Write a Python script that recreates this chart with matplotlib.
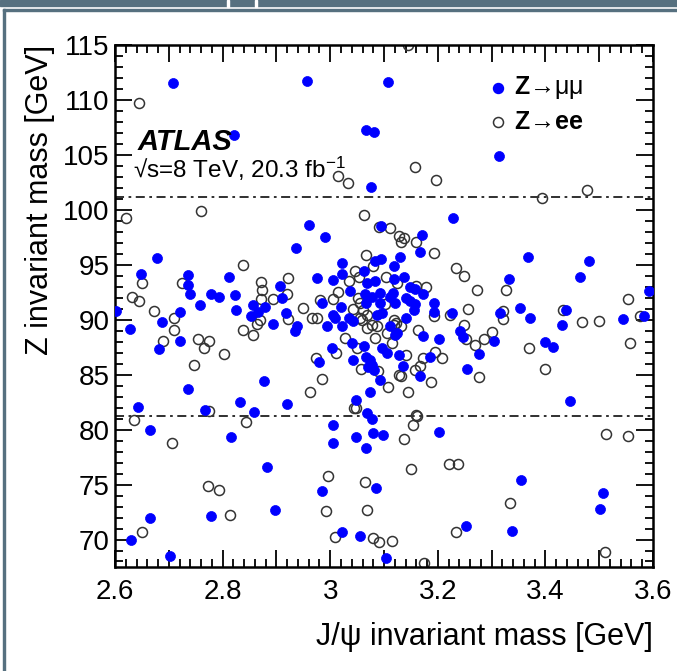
import numpy as np
import matplotlib
matplotlib.use("Agg")
import matplotlib.pyplot as plt
from matplotlib.ticker import MultipleLocator, FuncFormatter
from matplotlib.patches import Rectangle

# =====================================================
# DATA
# =====================================================

mumu_x = [2.707, 2.956, 3.108, 2.821, 3.066, 3.082, 3.076, 3.313, 2.961, 2.991,
          2.936, 3.228, 3.094, 3.170, 3.167, 3.368, 3.481, 3.332, 3.465, 3.593,
          2.677, 2.648, 2.736, 2.736, 2.812, 2.907, 2.976, 3.006, 3.022, 3.021,
          3.062, 3.084, 2.602, 2.628, 2.688, 2.682, 2.720, 2.720, 2.739, 2.757,
          2.779, 2.793, 2.823, 2.824, 2.735, 2.877, 2.643, 2.767, 2.833, 2.859,
          2.919, 2.911, 2.856, 2.865, 2.852, 2.879, 2.894, 2.918, 2.664, 2.816,
          2.883, 2.779, 2.897, 2.664, 2.630, 2.703, 3.006, 3.005, 2.985, 3.021,
          3.068, 3.077, 3.047, 3.080, 3.099, 3.066, 3.203, 3.086, 3.055, 3.104,
          3.252, 3.355, 3.337, 3.445, 3.507, 3.501, 3.095, 3.129, 3.119, 3.069,
          3.084, 3.118, 3.138, 3.149, 3.157, 3.036, 2.985, 3.065, 3.067, 3.078,
          3.093, 3.093, 3.112, 3.116, 3.121, 3.140, 3.149, 3.158, 3.155, 3.172,
          3.192, 3.193, 3.006, 3.009, 3.020, 3.034, 3.043, 3.087, 3.096, 3.141,
          3.112, 2.939, 2.935, 2.994, 3.022, 3.121, 3.124, 3.172, 3.203, 3.226,
          3.241, 3.246, 3.040, 3.062, 3.003, 3.096, 3.105, 3.127, 2.980, 3.042,
          3.067, 3.074, 3.077, 3.082, 3.071, 3.093, 3.136, 3.185, 3.166, 3.073,
          3.048, 3.315, 3.352, 3.371, 3.438, 3.430, 3.545, 3.583, 3.305, 3.277,
          3.255, 3.399, 3.415]
mumu_y = [111.5, 111.7, 111.6, 106.8, 107.3, 107.1, 102.1, 104.9, 98.6, 97.5,
          96.5, 99.3, 98.55, 97.7, 96.2, 95.7, 95.3, 93.75, 93.85, 92.6,
          95.6, 94.2, 94.1, 93.2, 93.9, 93.1, 93.8, 93.6, 94.2, 95.2,
          94.4, 95.3, 90.8, 89.2, 89.75, 87.3, 90.7, 88.1, 92.3, 91.3,
          92.3, 92.1, 92.25, 90.9, 83.7, 84.4, 82.1, 81.8, 82.5, 81.6,
          82.3, 92.0, 91.3, 90.7, 90.3, 91.2, 89.6, 90.6, 79.95, 79.3,
          76.6, 72.1, 72.7, 72.0, 70.0, 68.5, 80.4, 78.75, 74.45, 70.7,
          81.5, 81.0, 79.3, 79.7, 79.5, 78.3, 79.75, 74.7, 70.3, 68.3,
          71.25, 75.4, 70.75, 82.6, 74.2, 72.8, 95.5, 95.7, 94.9, 93.3,
          93.5, 93.7, 93.9, 93.0, 92.8, 92.6, 91.5, 92.3, 91.5, 92.1,
          92.4, 91.5, 92.1, 92.4, 91.5, 92.0, 91.7, 91.4, 90.9, 92.3,
          91.5, 90.7, 90.45, 90.15, 91.15, 90.15, 89.85, 90.45, 90.6, 90.15,
          89.4, 89.4, 88.95, 89.4, 89.45, 88.6, 88.8, 88.5, 88.2, 90.6,
          89.0, 88.4, 87.9, 87.6, 87.4, 87.4, 86.95, 86.8, 86.15, 86.3,
          86.65, 86.35, 85.85, 85.45, 85.7, 84.55, 85.8, 86.65, 84.9, 83.4,
          82.7, 90.65, 91.1, 90.2, 90.9, 89.5, 90.1, 90.3, 88.1, 86.9,
          85.5, 88.0, 87.5]

ee_x = [2.645, 3.144, 3.014, 3.033, 3.157, 3.197, 3.393, 3.477, 2.620, 2.759,
        3.063, 3.090, 2.838, 2.650, 2.725, 2.871, 2.921, 3.066, 3.112, 3.127,
        3.137, 3.131, 3.160, 3.192, 3.233, 3.248, 3.273, 3.326, 3.554, 2.632,
        2.644, 2.673, 2.709, 2.710, 2.689, 2.755, 2.775, 2.766, 2.802, 2.746,
        2.774, 2.874, 2.872, 2.893, 2.919, 2.870, 2.864, 2.837, 2.857, 2.921,
        2.635, 2.705, 2.843, 2.772, 2.794, 2.814, 2.650, 2.995, 2.992, 3.008,
        3.047, 3.159, 3.162, 3.154, 3.137, 3.151, 3.221, 3.238, 3.065, 3.068,
        3.080, 3.090, 3.114, 3.175, 3.234, 3.334, 3.513, 3.553, 3.511, 3.079,
        3.046, 3.035, 3.053, 3.104, 3.124, 3.160, 3.178, 3.015, 3.005, 2.981,
        3.051, 3.056, 3.102, 3.193, 2.949, 2.966, 2.975, 3.042, 3.056, 3.059,
        3.069, 3.061, 3.118, 3.123, 3.132, 3.118, 3.078, 3.087, 3.068, 3.105,
        3.164, 3.222, 3.084, 3.028, 3.050, 3.115, 3.011, 3.141, 2.974, 3.058,
        3.088, 3.107, 3.127, 3.132, 3.173, 3.166, 3.158, 3.207, 3.195, 3.187,
        2.985, 2.963, 3.144, 3.045, 3.257, 3.322, 3.322, 3.433, 3.468, 3.500,
        3.576, 3.249, 3.253, 3.270, 3.285, 3.300, 3.277, 3.369, 3.399, 3.558]
ee_y = [109.75, 115.0, 103.1, 102.4, 103.9, 102.7, 101.1, 101.8, 99.3, 99.9,
        99.5, 98.4, 95.0, 93.3, 93.3, 93.4, 93.8, 95.9, 98.3, 97.6,
        97.4, 97.1, 97.1, 96.1, 94.75, 93.95, 92.7, 92.7, 91.9, 92.1,
        91.7, 90.8, 90.15, 89.1, 88.1, 88.2, 88.1, 87.4, 86.9, 85.85,
        81.7, 92.7, 91.9, 91.9, 92.3, 90.0, 89.6, 89.1, 88.6, 90.1,
        80.85, 78.8, 80.7, 74.9, 74.5, 72.2, 70.7, 75.75, 72.6, 70.2,
        82.0, 81.3, 81.2, 80.4, 79.15, 76.4, 76.9, 76.9, 75.25, 72.7,
        70.1, 69.8, 69.9, 67.9, 70.7, 73.3, 79.6, 79.4, 68.9, 94.85,
        94.4, 93.5, 93.9, 93.9, 93.3, 93.1, 93.0, 92.5, 91.9, 91.8,
        92.0, 91.5, 91.4, 90.3, 91.1, 90.15, 90.2, 91.0, 90.15, 90.0,
        90.4, 90.9, 90.0, 89.7, 89.45, 89.55, 89.55, 89.4, 89.25, 88.8,
        89.1, 90.4, 88.35, 88.35, 87.4, 87.9, 86.95, 86.8, 86.5, 85.5,
        85.3, 83.9, 85.0, 84.85, 86.5, 85.75, 85.45, 86.5, 87.1, 84.3,
        84.6, 83.4, 83.4, 81.95, 91.0, 90.8, 90.1, 90.9, 89.8, 89.9,
        90.3, 89.55, 88.25, 87.7, 88.25, 88.9, 84.8, 87.4, 85.5, 87.9]

window_lines = [81.2, 101.2]

x_range = [2.6, 3.6]
y_range = [67.5, 115]

# =====================================================
# STYLE
# =====================================================

plt.rcParams["font.family"] = ["Liberation Sans", "DejaVu Sans"]
plt.rcParams["mathtext.fontset"] = "custom"
plt.rcParams["mathtext.rm"] = "Liberation Sans"
plt.rcParams["mathtext.it"] = "Liberation Sans:italic"
plt.rcParams["mathtext.bf"] = "Liberation Sans:bold"

fig = plt.figure(figsize=(6.77, 6.71), dpi=100)
ax = fig.add_axes([0.170, 0.155, 0.7945, 0.778])

# slide frame around the plot
slate = "#56707f"
fig.patches.append(Rectangle((0, 1 - 6 / 671), 1, 6 / 671, transform=fig.transFigure,
                             color=slate, zorder=0))
for xp in [227, 255]:
    fig.patches.append(Rectangle((xp / 677, 1 - 7 / 671), 2 / 677, 7 / 671,
                                 transform=fig.transFigure, color="white", zorder=1))
fig.patches.append(Rectangle((3 / 677, 1 - 11 / 671), 1, 2.5 / 671,
                             transform=fig.transFigure, color=slate, zorder=0))
fig.patches.append(Rectangle((3 / 677, 0), 2.5 / 677, 1 - 9 / 671,
                             transform=fig.transFigure, color=slate, zorder=0))

# =====================================================
# PLOT
# =====================================================

for yl in window_lines:
    ax.axhline(yl, color="#202020", linewidth=1.3,
               linestyle=(0, (5, 2.5, 1.5, 2.5)), zorder=1)

ax.plot(ee_x, ee_y, linestyle="none", marker="o", markersize=7.2,
        markerfacecolor="none", markeredgecolor="#333333",
        markeredgewidth=1.1, zorder=2)
ax.plot(mumu_x, mumu_y, linestyle="none", marker="o", markersize=7.2,
        markerfacecolor="#0000ff", markeredgecolor="#0000ff",
        markeredgewidth=0.5, zorder=3)

ax.set_xlim(x_range)
ax.set_ylim(y_range)

ax.xaxis.set_major_locator(MultipleLocator(0.1))
ax.xaxis.set_minor_locator(MultipleLocator(0.02))
ax.xaxis.set_major_formatter(FuncFormatter(
    lambda v, p: ("%g" % round(v, 1)) if abs(round(v * 5) - v * 5) < 1e-6 else ""))
ax.yaxis.set_major_locator(MultipleLocator(5))
ax.yaxis.set_minor_locator(MultipleLocator(1))

ax.tick_params(which="both", direction="in", top=True, right=True,
               width=1.3, labelsize=20, colors="black")
ax.tick_params(which="major", length=12)
ax.tick_params(which="minor", length=6)
ax.tick_params(axis="x", which="major", pad=9)
ax.tick_params(axis="y", which="major", pad=4)

for s in ax.spines.values():
    s.set_linewidth(1.8)

ax.set_xlabel("J/ψ invariant mass [GeV]", fontsize=22, loc="right", labelpad=12)
ax.set_ylabel("Z invariant mass [GeV]", fontsize=22, loc="top", labelpad=6)

# =====================================================
# LABELS / LEGEND
# =====================================================

ax.text(0.042, 0.799, "ATLAS", transform=ax.transAxes, fontsize=21,
        fontweight="bold", fontstyle="italic", va="baseline")
ax.text(0.033, 0.745, r"√s=8 TeV, 20.3 fb$^{-1}$", transform=ax.transAxes,
        fontsize=17.5, va="baseline")

ax.plot([0.712], [0.918], transform=ax.transAxes, marker="o", markersize=7.2,
        color="#0000ff", linestyle="none", clip_on=False)
ax.plot([0.712], [0.852], transform=ax.transAxes, marker="o", markersize=7.2,
        markerfacecolor="none", markeredgecolor="#333333", markeredgewidth=1.1,
        linestyle="none", clip_on=False)
ax.text(0.742, 0.918, r"$\mathbf{Z}$→μμ", transform=ax.transAxes,
        fontsize=18, va="center")
ax.text(0.742, 0.852, r"$\mathbf{Z}$→$\mathbf{ee}$", transform=ax.transAxes,
        fontsize=18, va="center")

plt.savefig("out.png", dpi=100)
